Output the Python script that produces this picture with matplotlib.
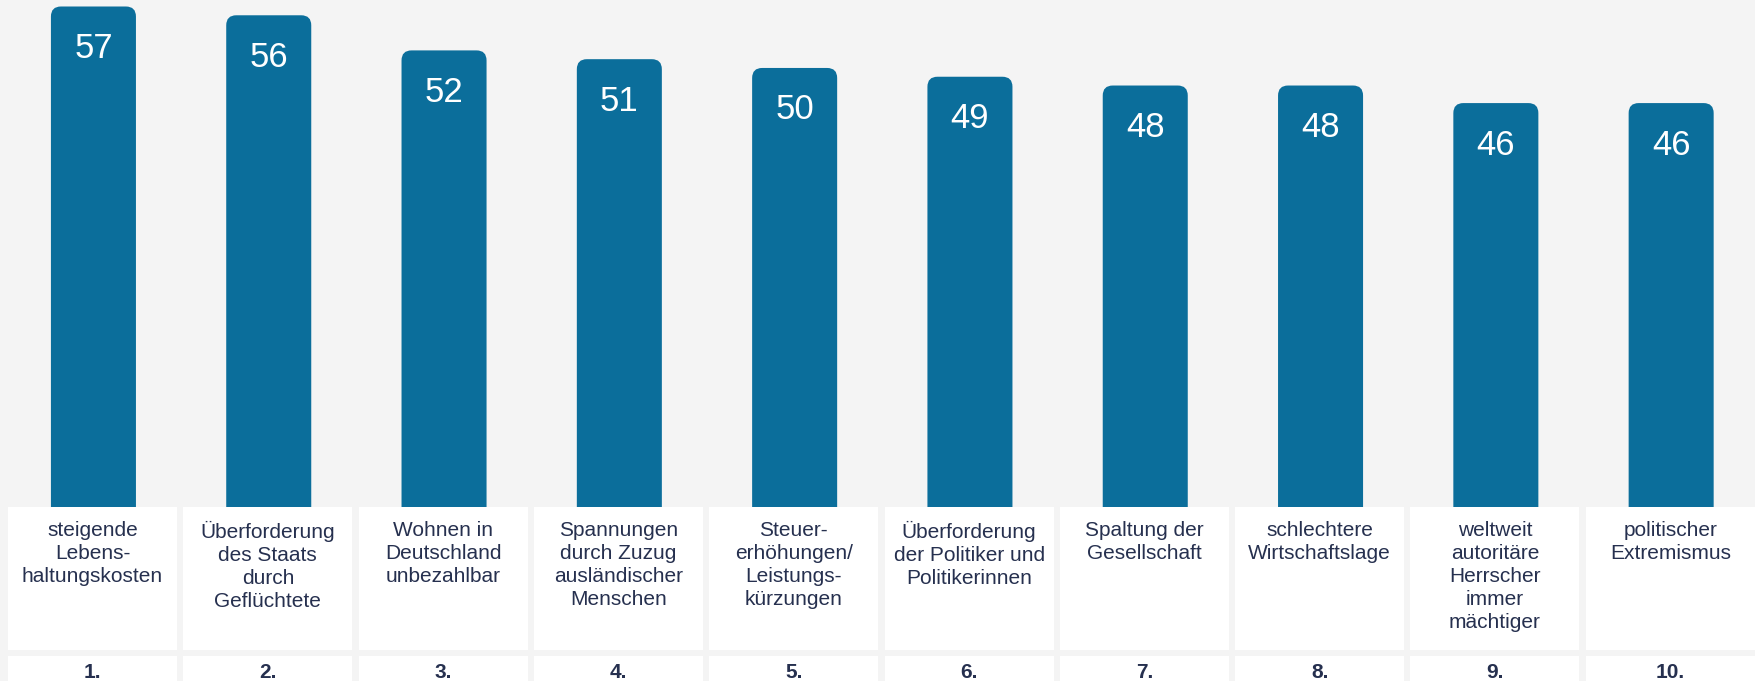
from matplotlib import pyplot as plt
from matplotlib.patches import FancyBboxPatch, Rectangle

# Werte und Beschriftungen
ranks = ["1.", "2.", "3.", "4.", "5.", "6.", "7.", "8.", "9.", "10."]
values = [57, 56, 52, 51, 50, 49, 48, 48, 46, 46]
labels = [
    "steigende\nLebens-\nhaltungskosten",
    "Überforderung\ndes Staats\ndurch\nGeflüchtete",
    "Wohnen in\nDeutschland\nunbezahlbar",
    "Spannungen\ndurch Zuzug\nausländischer\nMenschen",
    "Steuer-\nerhöhungen/\nLeistungs-\nkürzungen",
    "Überforderung\nder Politiker und\nPolitikerinnen",
    "Spaltung der\nGesellschaft",
    "schlechtere\nWirtschaftslage",
    "weltweit\nautoritäre\nHerrscher\nimmer\nmächtiger",
    "politischer\nExtremismus",
]

bar_color = "#0b6e9b"
text_color = "#26304f"
bg_color = "#f4f4f4"

plt.rcParams['font.family'] = ['Liberation Sans', 'DejaVu Sans']

W, H = 1756, 681
fig = plt.figure(figsize=(W / 100, H / 100), dpi=100, facecolor=bg_color)
ax = fig.add_axes([0, 0, 1, 1])
ax.set_facecolor(bg_color)
ax.set_xlim(-0.533, 9.484)
ax.set_ylim(-19.82, 57.74)
ax.axis("off")

# Pixel pro Dateneinheit
px_x = W / (9.484 + 0.533)
px_y = H / (57.74 + 19.82)

x = list(range(len(values)))
bars = ax.bar(x, values, width=0.485, color="none")

radius_px = 10
for bar, val in zip(bars, values):
    bx, bw = bar.get_x(), bar.get_width()
    patch = FancyBboxPatch((bx, -3), bw, val + 3,
                           boxstyle="round,pad=0,rounding_size=%f" % (radius_px / px_x),
                           mutation_aspect=px_x / px_y,
                           facecolor=bar_color, edgecolor="none", zorder=1)
    ax.add_patch(patch)
    ax.text(bar.get_x() + bw / 2, val - 42 / px_y, str(val), ha="center", va="center",
            color="white", fontsize=25, zorder=3)

box_w = 169 / px_x
for xi, lab, rk in zip(x, labels, ranks):
    ax.add_patch(Rectangle((xi - 0.005 - box_w / 2, -143 / px_y), box_w, 143 / px_y,
                           facecolor="white", edgecolor="none", zorder=2))
    ax.add_patch(Rectangle((xi - 0.005 - box_w / 2, -40), box_w, 40 - 149 / px_y,
                           facecolor="white", edgecolor="none", zorder=2))
    ax.text(xi - 0.005, -14 / px_y, lab, ha="center", va="top", color=text_color,
            fontsize=15, linespacing=1.26, zorder=3)
    ax.text(xi - 0.005, -166 / px_y, rk, ha="center", va="center", color=text_color,
            fontsize=15, fontweight="bold", zorder=3)

plt.savefig("out.png", dpi=100, facecolor=bg_color)
